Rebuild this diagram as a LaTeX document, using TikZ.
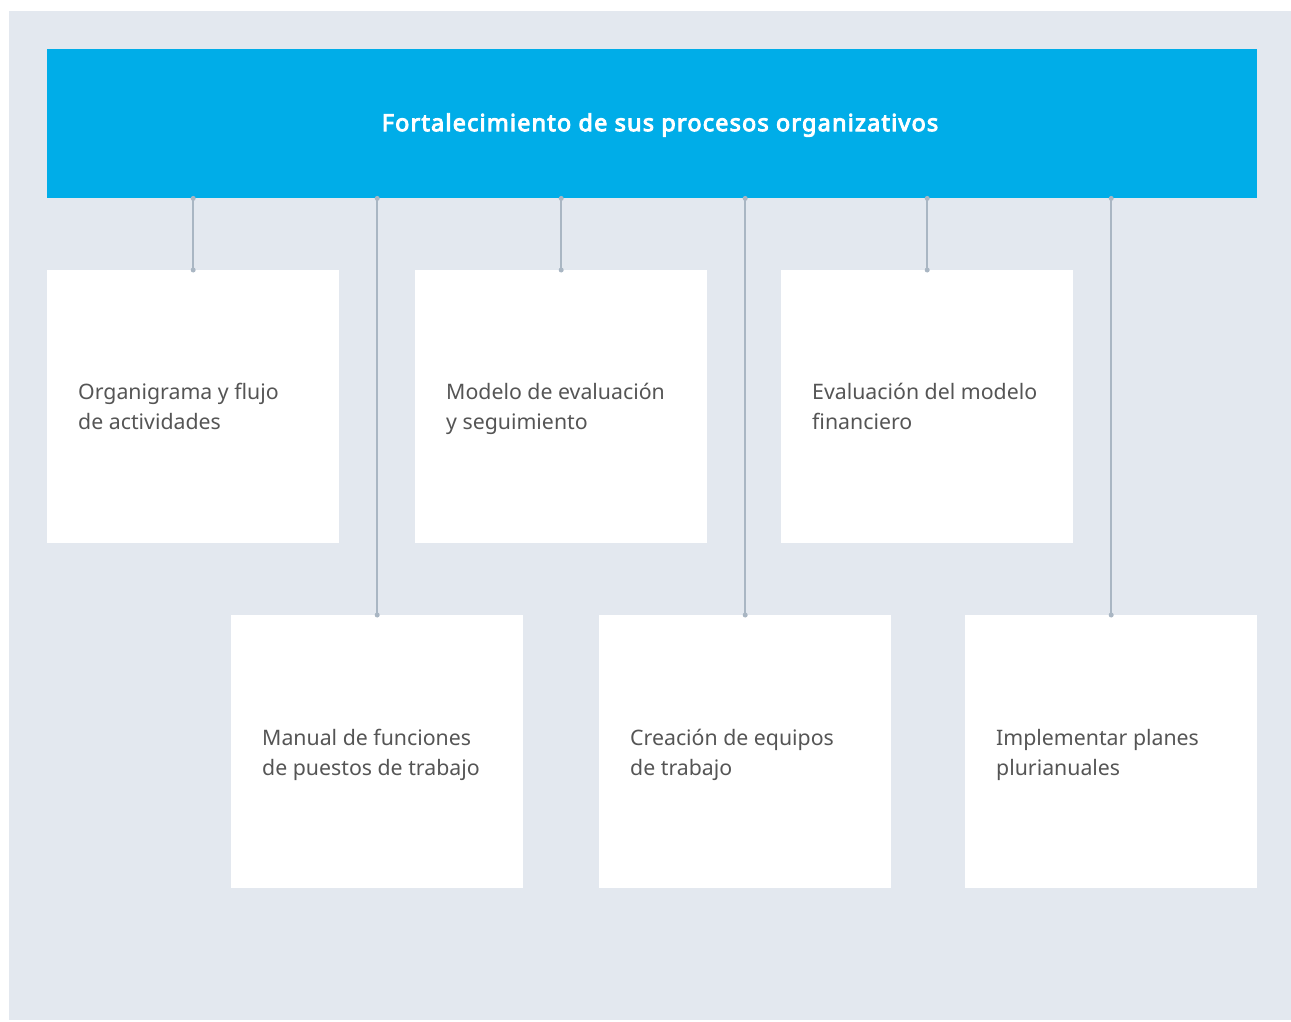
\documentclass[tikz,border=0pt]{standalone}
\usepackage{fontspec}
\setmainfont{Noto Sans}
\newfontfamily\titlefont{Noto Sans}[FakeBold=4, LetterSpace=5]
\definecolor{panel}{HTML}{E3E8EF}
\definecolor{barblue}{HTML}{00ADE8}
\definecolor{linegray}{HTML}{A9B6C3}
\definecolor{txtgray}{HTML}{555555}
\tikzset{
  card/.style={fill=white, draw=none, minimum width=292pt, minimum height=273pt, inner sep=0pt, anchor=north west},
  cardtext/.style={anchor=base west, align=left, text=txtgray, font=\fontsize{21.3pt}{30pt}\selectfont, inner sep=0pt},
  conn/.style={draw=linegray, line width=2pt}
}
\begin{document}
\begin{tikzpicture}[x=1pt,y=-1pt]
\useasboundingbox (0,0) rectangle (1291,1021);
\fill[white] (0,0) rectangle (1291,1021);
\fill[panel] (9,11) rectangle (1291,1020);
\node[fill=barblue, minimum width=1210pt, minimum height=149pt, inner sep=0pt, anchor=north west] (bar) at (47,49) {};
\node[text=white, font=\titlefont\fontsize{23.5pt}{28pt}\selectfont] (title) at (660,125) {Fortalecimiento de sus procesos organizativos};
% cards
\node[card] (c1) at (47,270) {};
\node[card] (c2) at (231,615) {};
\node[card] (c3) at (415,270) {};
\node[card] (c4) at (599,615) {};
\node[card] (c5) at (781,270) {};
\node[card] (c6) at (965,615) {};
\node[cardtext] (t1) at (78,429) {Organigrama y flujo\\de actividades};
\node[cardtext] (t2) at (262,775) {Manual de funciones\\de puestos de trabajo};
\node[cardtext] (t3) at (446,429) {Modelo de evaluación\\y seguimiento};
\node[cardtext] (t4) at (630,775) {Creación de equipos\\de trabajo};
\node[cardtext] (t5) at (812,429) {Evaluación del modelo\\financiero};
\node[cardtext] (t6) at (996,775) {Implementar planes\\plurianuales};
% connectors
\foreach \c in {c1,c2,c3,c4,c5,c6}{
  \coordinate (top\c) at (\c.north);
  \coordinate (start\c) at (bar.south -| \c.north);
  \draw[conn] (start\c) -- (top\c);
  \fill[linegray] (start\c) circle (2.5pt);
  \fill[linegray] (top\c) circle (2.5pt);
}
\end{tikzpicture}
\end{document}
